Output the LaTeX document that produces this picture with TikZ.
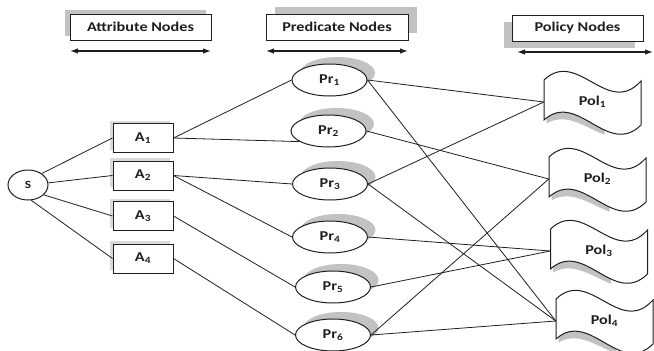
\documentclass[tikz,border=0pt]{standalone}
\usepackage{fontspec}
\setmainfont{Carlito}[FakeStretch=1.2]
\usetikzlibrary{arrows.meta,shapes.geometric,shadows}
\definecolor{shadowgray}{gray}{0.76}
\definecolor{ink}{gray}{0.12}
\begin{document}
\begin{tikzpicture}[x=1pt,y=-1pt,
  lbl/.style={font=\fontsize{13.5}{15}\selectfont\bfseries, text=ink},
  header/.style={lbl, draw=ink, line width=1pt, fill=white, minimum height=26pt, inner sep=0pt},
  attr/.style={lbl, draw=ink, line width=1pt, fill=white, minimum width=60pt, minimum height=29pt, inner sep=0pt,
    drop shadow={shadow xshift=-3pt, shadow yshift=3pt, fill=shadowgray!60, opacity=1}},
  pred/.style={lbl, ellipse, draw=ink, line width=1pt, fill=white, minimum width=75pt, minimum height=32pt, inner sep=0pt,
    drop shadow={shadow xshift=8pt, shadow yshift=7pt, fill=shadowgray, opacity=1}},
  pol/.style={lbl, minimum width=97pt, minimum height=40pt, inner sep=0pt},
  conn/.style={draw=ink, line width=0.8pt},
  span/.style={draw=ink, line width=1.2pt, {Latex[length=8pt,width=5.5pt]}-{Latex[length=8pt,width=5.5pt]}},
  polflag/.pic={
    % grey shadow under the left part of the wavy bottom edge
    \begin{scope}
      \clip (-46,0) rectangle (12,60);
      \fill[shadowgray] (48.5,28) .. controls (15,56) and (-15,0) .. (-48.5,23) -- (-48.5,0) -- (48.5,0) -- cycle;
    \end{scope}
    \draw[draw=ink, line width=1pt, fill=white] (-48.5,-22) .. controls (-15,-54) and (15,16) .. (48.5,-21) -- (48.5,23) .. controls (15,56) and (-15,-12) .. (-48.5,18) -- cycle;
  }]
\useasboundingbox (0,0) rectangle (654,351);

% column headers
\node[header, minimum width=141pt, drop shadow={shadow xshift=-5pt, shadow yshift=4pt, fill=shadowgray, opacity=1}] (hattr) at (140.5,27) {Attribute Nodes};
\node[header, minimum width=142pt, drop shadow={shadow xshift=9pt, shadow yshift=7pt, fill=shadowgray, opacity=1}] (hpred) at (337,27) {Predicate Nodes};
\node[header, minimum width=131pt, drop shadow={shadow xshift=-8pt, shadow yshift=-7pt, fill=shadowgray, opacity=1}] (hpol) at (577.5,28) {Policy Nodes};

\coordinate (attrL) at (70,51);  \coordinate (attrR) at (211,51);
\coordinate (predL) at (266,51); \coordinate (predR) at (408,51);
\coordinate (polL) at (517,52);  \coordinate (polR) at (653,52);
\draw[span] (attrL) -- (attrR);
\draw[span] (predL) -- (predR);
\draw[span] (polL) -- (polR);

% source
\node[lbl, ellipse, draw=ink, line width=1pt, fill=white, minimum width=40pt, minimum height=30pt, inner sep=0pt,
  font=\fontsize{11}{13}\selectfont\bfseries] (s) at (28,185) {S};

% attribute nodes
\node[attr] (a1) at (143,138) {A\textsubscript{1}};
\node[attr] (a2) at (143,175.5) {A\textsubscript{2}};
\node[attr] (a3) at (143,216) {A\textsubscript{3}};
\node[attr] (a4) at (143,258.5) {A\textsubscript{4}};

% predicate nodes
\node[pred] (pr1) at (329.5,80) {Pr\textsubscript{1}};
\node[pred] (pr2) at (328.5,131) {Pr\textsubscript{2}};
\node[pred] (pr3) at (330,184) {Pr\textsubscript{3}};
\node[pred] (pr4) at (330,237) {Pr\textsubscript{4}};
\node[pred] (pr5) at (333,287) {Pr\textsubscript{5}};
\node[pred] (pr6) at (333,335) {Pr\textsubscript{6}};

% policy nodes
\pic at (592.5,102) {polflag};
\node[pol] (pol1) at (592.5,102) {Pol\textsubscript{1}};
\pic at (597.5,179) {polflag};
\node[pol] (pol2) at (597.5,179) {Pol\textsubscript{2}};
\pic at (599,251) {polflag};
\node[pol] (pol3) at (599,251) {Pol\textsubscript{3}};
\pic at (604.5,321) {polflag};
\node[pol] (pol4) at (604.5,321) {Pol\textsubscript{4}};

% source to attributes
\draw[conn] (s.40) -- (a1.west);
\draw[conn] (s.6) -- (a2.west);
\draw[conn] (s.-32) -- (a3.west);
\draw[conn] (s.-78) -- (a4.west);

% attributes to predicates
\draw[conn] (a1.east) -- (pr1.west);
\draw[conn] (a1.east) -- (pr2.200);
\draw[conn] (a2.east) -- (pr3.west);
\draw[conn] (a2.east) -- (pr4.west);
\draw[conn] (a3.east) -- (pr5.west);
\draw[conn] (a4.east) -- (pr6.west);

% predicates to policies
\draw[conn] (pr1.east) -- (pol1.west);
\draw[conn] (pr1.east) -- (pol4.west);
\draw[conn] (pr2.east) -- (pol2.west);
\draw[conn] (pr3.east) -- (pol1.west);
\draw[conn] (pr3.east) -- (pol4.west);
\draw[conn] (pr4.east) -- (pol3.west);
\draw[conn] (pr5.east) -- (pol3.west);
\draw[conn] (pr6.east) -- (pol2.west);
\draw[conn] (pr6.east) -- (pol4.west);
\end{tikzpicture}
\end{document}
